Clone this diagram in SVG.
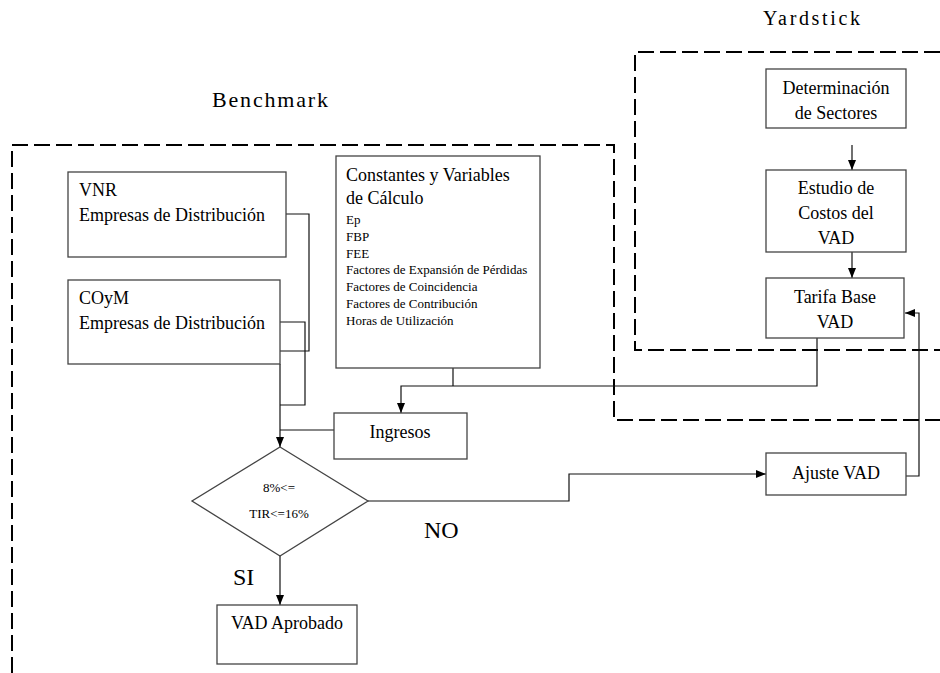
<svg xmlns="http://www.w3.org/2000/svg" width="940" height="673" viewBox="0 0 940 673" font-family="'Liberation Serif', 'Times New Roman', 'DejaVu Serif', serif">
<defs>
<marker id="arr" markerUnits="userSpaceOnUse" markerWidth="10" markerHeight="10" viewBox="0 0 10 10" refX="10" refY="5" orient="auto">
<path d="M0,1 L10,5 L0,9 Z" fill="#000"/>
</marker>
<style>
text{font-family:'Liberation Serif','Times New Roman','DejaVu Serif',serif;fill:#000}
.m{font-size:18px}
.s{font-size:13px}
.c{text-anchor:middle}
.box{fill:#fff;stroke:#444;stroke-width:1.3}
.dash{fill:none;stroke:#000;stroke-width:2;stroke-dasharray:16 6}
.ln{fill:none;stroke:#111;stroke-width:1.2}
</style>
</defs>
<rect width="940" height="673" fill="#fff"/>
<g id="regions">
<path class="dash" d="M12,673 L12,145 L614,145 L614,420 L940,420"/>
<path class="dash" d="M940,52 L635,52 L635,350 L940,350"/>
<text x="212" y="107" font-size="22" textLength="116" lengthAdjust="spacing">Benchmark</text>
<text x="763" y="25" font-size="20" textLength="97" lengthAdjust="spacing">Yardstick</text>
</g>
<g id="connectors">
<polyline class="ln" points="286,214 309,214 309,351 280,351"/>
<polyline class="ln" points="280,322 305,322 305,405 280,405"/>
<polyline class="ln" points="280,364 280,447" marker-end="url(#arr)"/>
<polyline class="ln" points="334,430 280,430"/>
<polyline class="ln" points="453,368 453,386"/>
<polyline class="ln" points="817,338 817,386 401,386 401,413" marker-end="url(#arr)"/>
<polyline class="ln" points="368,501 569,501 569,474 766,474" marker-end="url(#arr)"/>
<polyline class="ln" points="906,476 919,476 919,313 905,313" marker-end="url(#arr)"/>
<polyline class="ln" points="852,145 852,170" marker-end="url(#arr)"/>
<polyline class="ln" points="852,252 852,278" marker-end="url(#arr)"/>
<polyline class="ln" points="280,556 280,605" marker-end="url(#arr)"/>
</g>
<g id="vnr">
<rect class="box" x="68" y="172" width="218" height="85"/>
<text class="m" x="79" y="196">VNR</text>
<text class="m" x="79" y="221">Empresas de Distribución</text>
</g>
<g id="coym">
<rect class="box" x="68" y="280" width="212" height="84"/>
<text class="m" x="79" y="304">COyM</text>
<text class="m" x="79" y="329">Empresas de Distribución</text>
</g>
<g id="constantes">
<rect class="box" x="336" y="156" width="204" height="212"/>
<text class="m" x="346" y="181">Constantes y Variables</text>
<text class="m" x="346" y="204">de Cálculo</text>
<text class="s" x="346" y="224">Ep</text>
<text class="s" x="346" y="241">FBP</text>
<text class="s" x="346" y="258">FEE</text>
<text class="s" x="346" y="274">Factores de Expansión de Pérdidas</text>
<text class="s" x="346" y="291">Factores de Coincidencia</text>
<text class="s" x="346" y="308">Factores de Contribución</text>
<text class="s" x="346" y="325">Horas de Utilización</text>
</g>
<g id="ingresos">
<rect class="box" x="334" y="413" width="133" height="46"/>
<text class="m c" x="400" y="438">Ingresos</text>
</g>
<g id="decision">
<polygon class="box" points="280,447 368,501 280,556 192,501"/>
<text class="c" x="279" y="492" font-size="13">8%&lt;=</text>
<text class="c" x="279" y="518" font-size="13">TIR&lt;=16%</text>
<text x="233" y="585" font-size="24">SI</text>
<text x="424" y="538" font-size="24">NO</text>
</g>
<g id="aprobado">
<rect class="box" x="217" y="605" width="140" height="59"/>
<text class="m c" x="287" y="629">VAD Aprobado</text>
</g>
<g id="determinacion">
<rect class="box" x="766" y="69" width="140" height="59"/>
<text class="m c" x="836" y="94">Determinación</text>
<text class="m c" x="836" y="119">de Sectores</text>
</g>
<g id="estudio">
<rect class="box" x="766" y="170" width="140" height="82"/>
<text class="m c" x="836" y="194">Estudio de</text>
<text class="m c" x="836" y="219">Costos del</text>
<text class="m c" x="836" y="244">VAD</text>
</g>
<g id="tarifa">
<rect class="box" x="766" y="278" width="138" height="60"/>
<text class="m c" x="835" y="303">Tarifa Base</text>
<text class="m c" x="835" y="328">VAD</text>
</g>
<g id="ajuste">
<rect class="box" x="766" y="453" width="140" height="42"/>
<text class="m c" x="836" y="479">Ajuste VAD</text>
</g>
</svg>
